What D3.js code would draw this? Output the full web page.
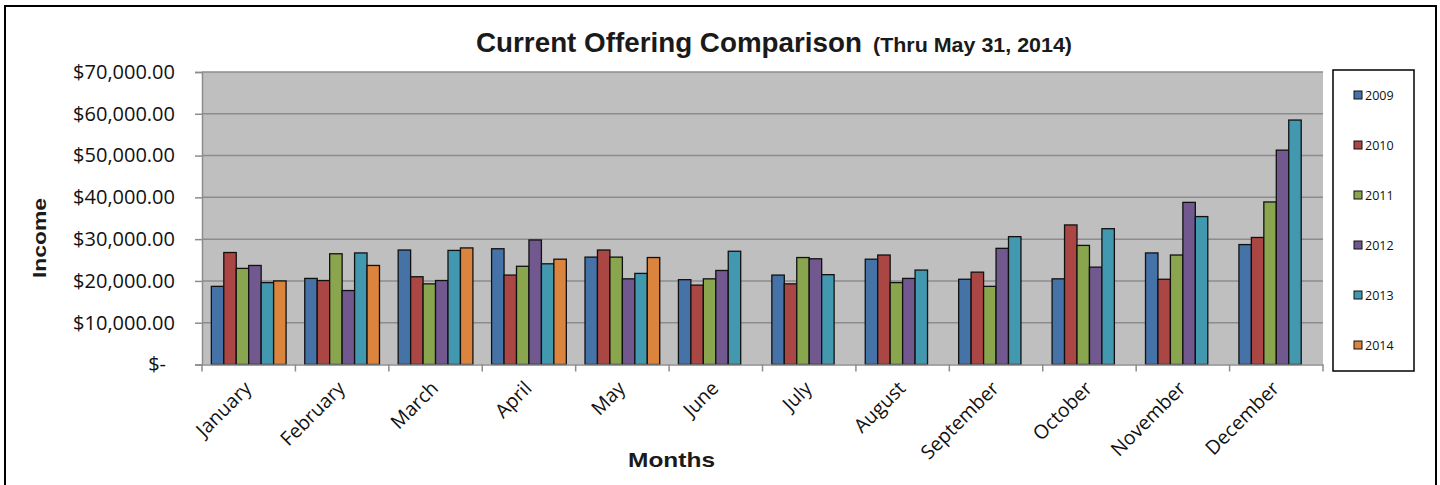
<!DOCTYPE html>
<html><head><meta charset="utf-8">
<script src="https://cdn.jsdelivr.net/npm/d3@7"></script>
<style>body{margin:0;background:#fff}svg{display:block}</style>
</head><body><svg id="c" width="1440" height="485"></svg>
<script>
const months = ["January","February","March","April","May","June","July","August","September","October","November","December"];
const years = ["2009","2010","2011","2012","2013","2014"];
const v2009 = [18700,20600,27400,27700,25700,20300,21400,25200,20400,20500,26700,28700];
const v2010 = [26800,20100,21000,21400,27400,19000,19300,26200,22100,33400,20400,30400];
const v2011 = [23000,26500,19300,23500,25700,20500,25600,19600,18700,28500,26200,38900];
const v2012 = [23700,17700,20100,29800,20500,22500,25300,20600,27800,23300,38800,51300];
const v2013 = [19600,26700,27300,24100,21800,27100,21500,22600,30600,32500,35400,58500];
const v2014 = [20000,23700,27900,25200,25600,null,null,null,null,null,null,null];
const yTicks = [0,10000,20000,30000,40000,50000,60000,70000];
const yTickLabels = ["$-","$10,000.00","$20,000.00","$30,000.00","$40,000.00","$50,000.00","$60,000.00","$70,000.00"];
const colors = ["#4572A7","#AA4643","#89A54E","#71588F","#4198AF","#DB843D"];
const seriesVals = [v2009,v2010,v2011,v2012,v2013,v2014];

const svg = d3.select("#c");
const L=202,R=1323,T=72,B=364.5;
const x0 = d3.scaleBand().domain(months).range([L,R]).padding(0);
const x1 = d3.scaleBand().domain(years).range([0,x0.bandwidth()]).paddingInner(0).paddingOuter(0.75);
const y = d3.scaleLinear().domain([0,70000]).range([B,T]);
const color = d3.scaleOrdinal().domain(years).range(colors);

// outer border
svg.append("rect").attr("x",5).attr("y",6).attr("width",1431).attr("height",490)
  .attr("fill","#fff").attr("stroke","#000").attr("stroke-width",2);

// plot bg
svg.append("rect").attr("x",L).attr("y",T).attr("width",R-L).attr("height",B-T).attr("fill","#c0bfc0");

// gridlines
svg.append("g").selectAll("line").data(yTicks.slice(1)).join("line")
  .attr("x1",L).attr("x2",R).attr("y1",d=>y(d)).attr("y2",d=>y(d))
  .attr("stroke","#8c8c8c").attr("stroke-width",1.5);

// bars
const data = [];
months.forEach((m,i)=>years.forEach((yr,j)=>{ if(seriesVals[j][i]!=null) data.push({m,yr,v:seriesVals[j][i]}); }));
svg.append("g").selectAll("rect").data(data).join("rect")
  .attr("x",d=>x0(d.m)+x1(d.yr)).attr("width",x1.bandwidth())
  .attr("y",d=>y(d.v)).attr("height",d=>y(0)-y(d.v))
  .attr("fill",d=>color(d.yr)).attr("stroke","#111").attr("stroke-width",1.3);

// y axis
const yAxis = svg.append("g").attr("transform",`translate(${L},0)`)
  .call(d3.axisLeft(y).tickValues(yTicks).tickFormat((d,i)=>yTickLabels[i]).tickSize(7).tickPadding(20));
yAxis.select(".domain").attr("stroke","#8c8c8c").attr("stroke-width",1.5);
yAxis.selectAll(".tick line").attr("stroke","#8c8c8c").attr("stroke-width",1.5);
yAxis.selectAll(".tick text").attr("font-family","Open Sans, sans-serif").attr("font-size",20).attr("fill","#111")
  .attr("dx",(d)=>d===0?-9:0);

// x axis
const xAxis = svg.append("g").attr("transform",`translate(0,${B})`)
  .call(d3.axisBottom(x0).tickSize(0).tickPadding(0));
xAxis.select(".domain").attr("stroke","#8c8c8c").attr("stroke-width",1.5);
xAxis.selectAll(".tick text").attr("font-family","Open Sans, sans-serif").attr("font-size",19.5).attr("fill","#111")
  .attr("text-anchor","end").attr("x",0).attr("y",0).attr("dx",0).attr("dy",0)
  .attr("transform","translate(4,25) rotate(-45)");
svg.append("g").selectAll("line").data(months.concat(["__end"])).join("line")
  .attr("x1",d=>d==="__end"?R:x0(d)).attr("x2",d=>d==="__end"?R:x0(d))
  .attr("y1",B).attr("y2",B+7).attr("stroke","#8c8c8c").attr("stroke-width",1.5);

// titles
svg.append("text").attr("x",476).attr("y",52).attr("font-family","Liberation Sans, Arial, sans-serif")
  .attr("font-weight","bold").attr("fill","#1a1a1a").attr("font-size",28)
  .attr("textLength",386).attr("lengthAdjust","spacingAndGlyphs").text("Current Offering Comparison");
svg.append("text").attr("x",873).attr("y",52).attr("font-family","Liberation Sans, Arial, sans-serif")
  .attr("font-weight","bold").attr("fill","#1a1a1a").attr("font-size",20)
  .attr("textLength",199).attr("lengthAdjust","spacingAndGlyphs").text("(Thru May 31, 2014)");

svg.append("text").attr("transform","translate(46,238) rotate(-90)").attr("text-anchor","middle")
  .attr("font-family","Liberation Sans, Arial, sans-serif").attr("font-weight","bold").attr("font-size",19)
  .attr("textLength",80).attr("lengthAdjust","spacingAndGlyphs")
  .attr("fill","#1a1a1a").text("Income");
svg.append("text").attr("x",628).attr("y",467)
  .attr("font-family","Liberation Sans, Arial, sans-serif").attr("font-weight","bold").attr("font-size",21)
  .attr("textLength",87).attr("lengthAdjust","spacingAndGlyphs")
  .attr("fill","#1a1a1a").text("Months");

// legend
svg.append("rect").attr("x",1333).attr("y",70).attr("width",81).attr("height",301)
  .attr("fill","#fff").attr("stroke","#000").attr("stroke-width",1.5);
const lg = svg.append("g").selectAll("g").data(years).join("g")
  .attr("transform",(d,i)=>`translate(1354,${95+i*50})`);
lg.append("rect").attr("x",0).attr("y",-4).attr("width",8).attr("height",8)
  .attr("fill",d=>color(d)).attr("stroke","#111").attr("stroke-width",1);
lg.append("text").attr("x",11).attr("y",4.5).attr("font-family","Open Sans, sans-serif").attr("font-size",12.5)
  .attr("fill","#111").text(d=>d);
</script></body></html>
